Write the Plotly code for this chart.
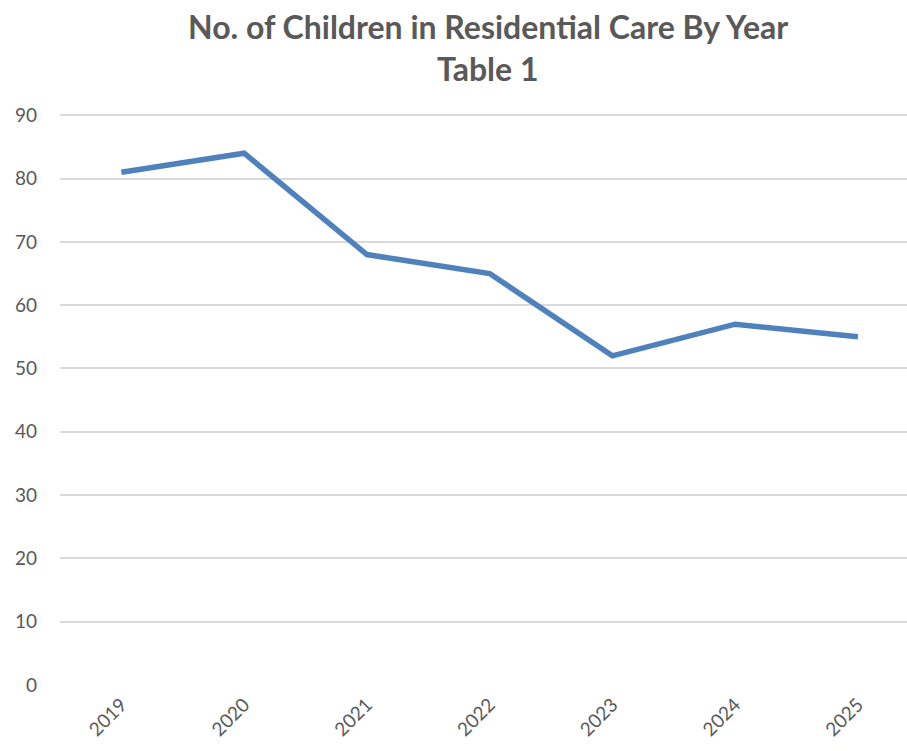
import plotly.graph_objects as go

years = ["2019", "2020", "2021", "2022", "2023", "2024", "2025"]
children = [81, 84, 68, 65, 52, 57, 55]
y_ticks = [0, 10, 20, 30, 40, 50, 60, 70, 80, 90]
title_lines = ["No. of Children in Residential Care By Year", "Table 1"]

fig = go.Figure()
fig.add_trace(go.Scatter(
    x=years, y=children, mode="lines",
    line=dict(color="#4F81BD", width=5.5),
    hoverinfo="x+y",
))

plot_top, plot_bottom = 114, 685
ph = plot_bottom - plot_top
for txt, cy in zip(title_lines, [26, 68]):
    fig.add_annotation(
        text="<b>" + txt + "</b>", xref="paper", yref="paper",
        x=0.505, y=(plot_bottom - cy) / ph, xanchor="center", yanchor="middle",
        showarrow=False,
        font=dict(size=32, color="#595959", family="Lato, Open Sans, sans-serif"),
    )

fig.update_layout(
    width=907, height=751,
    margin=dict(l=60, r=0, t=plot_top, b=751 - plot_bottom),
    paper_bgcolor="white", plot_bgcolor="white",
    showlegend=False,
    font=dict(family="Lato, Open Sans, sans-serif", color="#595959"),
    xaxis=dict(
        type="category", range=[-0.5, 6.4],
        showgrid=False, showline=False, zeroline=False,
        tickangle=-45, tickfont=dict(size=19, color="#595959"),
        ticks="", ticklabelstandoff=4,
    ),
    yaxis=dict(
        range=[0, 90.2], tickvals=y_ticks,
        showgrid=True, gridcolor="#D9D9D9", gridwidth=1.5,
        zeroline=False, showline=False,
        tickfont=dict(size=19, color="#595959"),
        ticks="", ticklabelstandoff=22,
    ),
)

fig.write_html("out.html")
